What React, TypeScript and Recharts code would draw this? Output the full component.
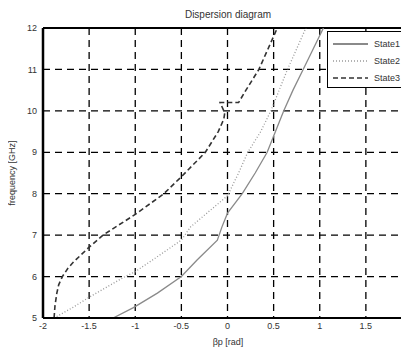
import { LineChart, Line, XAxis, YAxis, CartesianGrid, ReferenceLine } from "recharts";

// frequency [GHz] vs beta*p [rad] for each state
const freq1 = [5, 5.25, 5.6, 6, 6.4, 6.88, 7.2, 7.53, 8, 8.5, 9, 9.5, 10, 10.5, 11, 11.5, 12];
const beta1 = [-1.24, -1.02, -0.76, -0.5, -0.33, -0.11, -0.06, 0, 0.16, 0.3, 0.43, 0.52, 0.61, 0.71, 0.82, 0.93, 1.04];

const freq2 = [5, 5.25, 5.5, 6, 6.12, 6.45, 6.88, 7.2, 7.5, 7.95, 8.5, 9, 9.5, 10, 10.5, 11, 11.5, 12];
const beta2 = [-1.88, -1.68, -1.5, -1.11, -1.0, -0.78, -0.5, -0.4, -0.24, 0.0, 0.12, 0.22, 0.36, 0.47, 0.56, 0.65, 0.75, 0.85];

const freq3 = [5, 5.3, 5.6, 5.8, 6, 6.2, 6.35, 6.71, 7, 7.5, 8, 8.41, 9, 9.5, 9.8, 9.95, 10.2, 10.2, 10.5, 11, 11.5, 12];
const beta3 = [-1.88, -1.87, -1.85, -1.83, -1.79, -1.73, -1.67, -1.5, -1.35, -1.0, -0.69, -0.5, -0.24, -0.1, -0.04, -0.03, -0.08, 0.12, 0.2, 0.34, 0.44, 0.54];

const xTicks = [-2, -1.5, -1, -0.5, 0, 0.5, 1, 1.5];
const yTicks = [5, 6, 7, 8, 9, 10, 11, 12];

const seriesNames = ["State1", "State2", "State3"];

const toPoints = (beta: number[], freq: number[]) =>
  beta.map((b, i) => ({ beta: b, freq: freq[i] }));

const series = [
  { name: seriesNames[0], data: toPoints(beta1, freq1), color: "#8a8a8a", dash: undefined, width: 1.3 },
  { name: seriesNames[1], data: toPoints(beta2, freq2), color: "#9a9a9a", dash: "1 2", width: 1.3 },
  { name: seriesNames[2], data: toPoints(beta3, freq3), color: "#333333", dash: "5 3", width: 1.6 },
];

const font = "'Liberation Sans', Arial, sans-serif";
const tickStyle = { fontSize: 9, fill: "#333", fontFamily: font };

function LegendBox() {
  return (
    <div
      style={{
        position: "absolute",
        left: 319,
        top: 23,
        width: 81,
        height: 57,
        border: "1px solid #000",
        background: "#fff",
        boxSizing: "border-box",
        fontFamily: font,
        fontSize: 9,
        color: "#333",
        paddingTop: 3,
      }}
    >
      {series.map((s) => (
        <div key={s.name} style={{ display: "flex", alignItems: "center", height: 17 }}>
          <svg width={41} height={8} style={{ marginLeft: 5 }}>
            <line
              x1={0}
              x2={35}
              y1={4}
              y2={4}
              stroke={s.color}
              strokeWidth={s.name === "State1" ? 2 : 1.6}
              strokeDasharray={s.dash}
            />
          </svg>
          <span>{s.name}</span>
        </div>
      ))}
    </div>
  );
}

export default function App() {
  return (
    <div style={{ position: "relative", width: 401, height: 343, overflow: "hidden", background: "#fff" }}>
      <div
        style={{
          position: "absolute",
          left: 0,
          width: 440,
          top: 1,
          textAlign: "center",
          fontFamily: font,
          fontSize: 10,
          color: "#333",
        }}
      >
        Dispersion diagram
      </div>
      <div
        style={{
          position: "absolute",
          left: 0,
          width: 440,
          top: 329,
          textAlign: "center",
          fontFamily: font,
          fontSize: 9,
          color: "#333",
        }}
      >
        βp [rad]
      </div>
      <div
        style={{
          position: "absolute",
          left: 4,
          top: 165,
          transform: "translate(-50%, -50%) rotate(-90deg)",
          whiteSpace: "nowrap",
          fontFamily: font,
          fontSize: 9,
          color: "#333",
        }}
      >
        frequency [GHz]
      </div>
      <div style={{ position: "absolute", left: 0, top: 0 }}>
        <LineChart width={420} height={343} margin={{ top: 20, right: 16, bottom: 13, left: 0 }}>
          <CartesianGrid stroke="#000" strokeDasharray="7 5" strokeWidth={1.3} />
          <XAxis
            type="number"
            dataKey="beta"
            domain={[-2, 2]}
            ticks={xTicks}
            allowDataOverflow
            height={20}
            tick={tickStyle}
            tickLine={false}
            tickSize={3}
            tickMargin={2}
            axisLine={{ stroke: "#000", strokeWidth: 2 }}
            interval={0}
          />
          <YAxis
            type="number"
            dataKey="freq"
            domain={[5, 12]}
            ticks={yTicks}
            allowDataOverflow
            width={35}
            tick={tickStyle}
            tickLine={false}
            tickSize={4}
            tickMargin={2}
            axisLine={{ stroke: "#000", strokeWidth: 2.5 }}
            interval={0}
          />
          <ReferenceLine y={12} stroke="#000" strokeWidth={2} />
          {series.map((s) => (
            <Line
              key={s.name}
              data={s.data}
              dataKey="freq"
              name={s.name}
              type="linear"
              stroke={s.color}
              strokeWidth={s.width}
              strokeDasharray={s.dash}
              dot={false}
              activeDot={false}
              isAnimationActive={false}
            />
          ))}
        </LineChart>
      </div>
      <LegendBox />
    </div>
  );
}
